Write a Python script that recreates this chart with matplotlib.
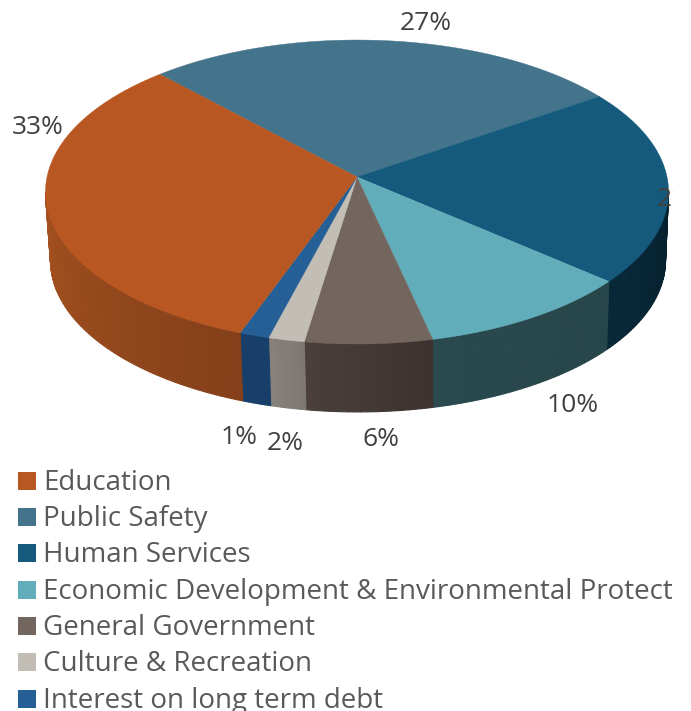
import matplotlib
matplotlib.use("Agg")
import matplotlib.pyplot as plt
from matplotlib.patches import Rectangle
import numpy as np

categorias = ["Education", "Public Safety", "Human Services",
              "Economic Development & Environmental Protect",
              "General Government", "Culture & Recreation",
              "Interest on long term debt"]
# estimated from the slice edges, the labels are the rounded ones
valores = [32.5, 27.4, 20.8, 10.2, 6.0, 1.7, 1.4]
etiquetas = ["33%", "27%", "21%", "10%", "6%", "2%", "1%"]
colores = ["#b85722", "#44748c", "#155a7c", "#62adba", "#73665f", "#c2bdb5", "#265f95"]
# side wall colour, left end and right end of each slice
lados_a = ["#a5511f", "#2c4b5b", "#08283a", "#2a4a50", "#4a3f3b", "#87827c", "#173f6a"]
lados_b = ["#84401a", "#2c4b5b", "#06202c", "#274649", "#3c322f", "#7c7771", "#173f6a"]

pos_etiquetas = [(38, 127), (426, 24), (657, 199), (573, 405), (381, 439), (285, 443), (239, 437)]
alin_etiquetas = ["center", "center", "left", "center", "center", "center", "center"]

inicio = -43.0  # clockwise from the back of the pie, Education ends here
k = 0.0987


def proyecta(theta, cx, cy, a, b, r=1.0):
    # perspective view of a point of the unit disc
    t = np.radians(theta)
    u = r * np.sin(t)
    v = -r * np.cos(t)
    d = 1 - k * v
    return cx + a * u / d, cy + b * v / d


def arriba(theta):
    return proyecta(theta, 357, 177, 310, 150.5)


def abajo(theta):
    return proyecta(theta, 358, 245.5, 306, 150)


def mezcla(c1, c2, f):
    a = np.array(matplotlib.colors.to_rgb(c1))
    b = np.array(matplotlib.colors.to_rgb(c2))
    return tuple(a + (b - a) * f)


fig = plt.figure(figsize=(6.91, 7.11), dpi=100)
ax = fig.add_axes([0, 0, 1, 1])
ax.set_xlim(0, 691)
ax.set_ylim(711, 0)
ax.axis("off")

# slices go clockwise, Education last
orden = [1, 2, 3, 4, 5, 6, 0]
lim_der = np.degrees(np.arccos(-k))
lim_izq = 360 - lim_der

ang = inicio
for i in orden:
    barrido = valores[i] * 3.6
    a0, a1 = ang, ang + barrido
    ang = a1
    a0n, a1n = a0 % 360, (a1 - 1e-6) % 360
    if a1n < a0n:
        a0n -= 360
    # wall, only the part that faces the viewer
    w0, w1 = max(a0n, lim_der), min(a1n, lim_izq)
    if w1 > w0:
        n = max(int((w1 - w0) / 1.0), 1)
        ts = np.linspace(w0, w1, n + 1)
        for j in range(n):
            # colour runs from the left end of the wall to the right end
            f = (j + 0.5) / n
            col = mezcla(lados_a[i], lados_b[i], 1 - f)
            x1, y1 = arriba(ts[j])
            x2, y2 = arriba(ts[j + 1])
            x3, y3 = abajo(ts[j + 1])
            x4, y4 = abajo(ts[j])
            ax.fill([x1, x2, x3, x4], [y1, y2, y3, y4], facecolor=col, edgecolor=col,
                    lw=0.8, zorder=2)
    # top
    ts = np.linspace(a0, a1, 120)
    xs, ys = arriba(ts)
    ax.fill(np.r_[357, xs], np.r_[177, ys], color=colores[i], lw=0.3, zorder=3)

caja = Rectangle((0, 0), 674, 711, transform=ax.transData)

for i in range(len(valores)):
    x, y = pos_etiquetas[i]
    t = ax.text(x, y, etiquetas[i], fontsize=19, family="Open Sans", color="#404040",
                ha=alin_etiquetas[i], va="center", zorder=5)
    t.set_clip_path(caja)
    t.set_clip_on(True)

ys_ley = [483, 519, 555, 592, 628, 664, 701]
ys_cuadro = [481, 517, 553, 590, 626, 662, 699]
for i in range(len(categorias)):
    ax.add_patch(Rectangle((18, ys_cuadro[i] - 9), 18, 18, color=colores[i], lw=0, zorder=4))
    ax.text(43, ys_ley[i], categorias[i], fontsize=20, family="Open Sans", color="#595959",
            ha="left", va="center", zorder=5)

fig.savefig("out.png", dpi=100)
